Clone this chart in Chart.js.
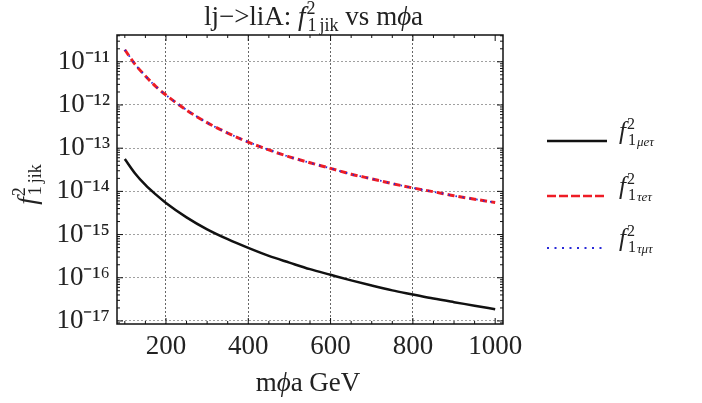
<!DOCTYPE html>
<html><head><meta charset="utf-8">
<script src="https://cdn.jsdelivr.net/npm/chart.js@4"></script>
<style>html,body{margin:0;padding:0;background:#fff}#wrap{width:702px;height:403px;position:relative}</style>
</head><body><div id="wrap"><canvas id="c" width="702" height="403"></canvas></div>
<script>
// ---- data ----
const masses = [100,125,150,175,200,250,300,350,400,450,500,550,600,650,700,750,800,850,900,950,1000];
const f1_mu_e_tau = [5.6e-14,2.6e-14,1.41e-14,8.5e-15,5.4e-15,2.5e-15,1.32e-15,7.8e-16,4.9e-16,3.2e-16,2.24e-16,1.58e-16,1.17e-16,8.7e-17,6.6e-17,5.1e-17,4.1e-17,3.3e-17,2.72e-17,2.26e-17,1.86e-17];
const f1_tau_e_tau = [1.9e-11,8.7e-12,4.7e-12,2.7e-12,1.7e-12,7.6e-13,3.9e-13,2.24e-13,1.38e-13,9.1e-14,6.3e-14,4.6e-14,3.4e-14,2.5e-14,1.95e-14,1.51e-14,1.2e-14,9.8e-15,7.9e-15,6.6e-15,5.5e-15];
const f1_tau_mu_tau = [1.9e-11,8.8e-12,4.7e-12,2.7e-12,1.7e-12,7.7e-13,3.9e-13,2.25e-13,1.39e-13,9.2e-14,6.3e-14,4.6e-14,3.4e-14,2.5e-14,1.96e-14,1.52e-14,1.2e-14,9.8e-15,7.9e-15,6.6e-15,5.5e-15];
const xTickValues = [200,400,600,800,1000];
const yTickExponents = [-17,-16,-15,-14,-13,-12,-11];

const FAM = '"Liberation Serif","Times New Roman",serif';
const SUP = {'-':'\u207B','0':'\u2070','1':'\u00B9','2':'\u00B2','3':'\u00B3','4':'\u2074','5':'\u2075','6':'\u2076','7':'\u2077','8':'\u2078','9':'\u2079'};
function supStr(s){return s.split('').map(ch=>SUP[ch]||ch).join('');}

function font(p){return (p.italic?'italic ':'')+p.size+'px '+FAM;}
function rich(ctx,x,y,parts,align){
  let w=0;
  parts.forEach(p=>{ctx.font=font(p);p._w=ctx.measureText(p.t).width; if(!p.noAdv) w+=p._w+(p.pre||0);});
  let cx = align==='center'? x-w/2 : x;
  parts.forEach(p=>{
    ctx.font=font(p); cx+=(p.pre||0);
    ctx.fillText(p.t,cx,y+(p.dy||0));
    if(!p.noAdv) cx+=p._w;
  });
}

const decor = {
  id:'decor',
  afterDatasetsDraw(chart){
    const ctx=chart.ctx, a=chart.chartArea, xs=chart.scales.x, ys=chart.scales.y;
    ctx.save();
    // frame
    ctx.strokeStyle='#111'; ctx.lineWidth=1.5; ctx.setLineDash([]);
    ctx.strokeRect(a.left,a.top,a.right-a.left,a.bottom-a.top);
    // inward ticks
    ctx.lineWidth=1;
    for(let v=100; v<=1000; v+=50){
      const px=xs.getPixelForValue(v), L = (v%200===0)?6:3;
      ctx.beginPath(); ctx.moveTo(px,a.bottom); ctx.lineTo(px,a.bottom-L);
      ctx.moveTo(px,a.top); ctx.lineTo(px,a.top+L); ctx.stroke();
    }
    for(let k=-18;k<=-11;k++){
      for(let m=1;m<=9;m++){
        const v=m*Math.pow(10,k); if(v<ys.min||v>ys.max) continue;
        const py=ys.getPixelForValue(v), L=(m===1)?6:3;
        ctx.beginPath(); ctx.moveTo(a.left,py); ctx.lineTo(a.left+L,py);
        ctx.moveTo(a.right,py); ctx.lineTo(a.right-L,py); ctx.stroke();
      }
    }
    ctx.fillStyle='#222'; ctx.textBaseline='alphabetic'; ctx.textAlign='left';
    // title
    rich(ctx,313,25,[
      {t:'lj\u2212>liA: ',size:27},
      {t:'f',size:27,italic:true},
      {t:'2',size:18,dy:-11,noAdv:true,pre:1},
      {t:'1',size:18,dy:6,pre:1},
      {t:'jik',size:18,dy:6,pre:3},
      {t:' vs m',size:27},
      {t:'\u03D5',size:27,italic:true},
      {t:'a',size:27}
    ],'center');
    // x title
    rich(ctx,308,391,[
      {t:'m',size:27},{t:'\u03D5',size:27,italic:true},{t:'a GeV',size:27}
    ],'center');
    // y title (rotated)
    ctx.save(); ctx.translate(36,185); ctx.rotate(-Math.PI/2);
    rich(ctx,0,0,[
      {t:'f',size:27,italic:true},
      {t:'2',size:18,dy:-11,noAdv:true,pre:1},
      {t:'1',size:18,dy:5,pre:1},
      {t:'jik',size:18,dy:5,pre:3}
    ],'center');
    ctx.restore();
    // legend
    const leg=[
      {y:141,color:'#111',w:2.5,dash:[],sub:'\u03BCe\u03C4'},
      {y:196,color:'#ee1c25',w:2.5,dash:[9,3],sub:'\u03C4e\u03C4'},
      {y:248,color:'#2a2ad8',w:2.2,dash:[2,5.5],sub:'\u03C4\u03BC\u03C4'}
    ];
    leg.forEach(e=>{
      ctx.strokeStyle=e.color; ctx.lineWidth=e.w; ctx.setLineDash(e.dash);
      ctx.beginPath(); ctx.moveTo(547,e.y); ctx.lineTo(607,e.y); ctx.stroke();
      ctx.setLineDash([]); ctx.fillStyle='#222';
      rich(ctx,619,e.y-2,[
        {t:'f',size:25,italic:true},
        {t:'2',size:16,dy:-10,noAdv:true,pre:1},
        {t:'1',size:16,dy:6,pre:1},
        {t:e.sub,size:13,italic:true,dy:7,pre:1}
      ],'left');
    });
    ctx.restore();
  }
};

function series(label,vals,color,width,dash,order){
  return {label,data:masses.map((m,i)=>({x:m,y:vals[i]})),borderColor:color,borderWidth:width,borderDash:dash,
    pointRadius:0,fill:false,cubicInterpolationMode:'monotone',order};
}

new Chart(document.getElementById('c'),{
  type:'line',
  data:{datasets:[
    series('f1 μeτ',f1_mu_e_tau,'#111',2.5,[],2),
    series('f1 τeτ',f1_tau_e_tau,'#ee1c25',3,[7,4],1),
    series('f1 τμτ',f1_tau_mu_tau,'#2a2ad8',1.8,[1.5,5.5],0)
  ]},
  options:{
    responsive:false, animation:false, devicePixelRatio:1,
    layout:{padding:{top:35,right:199,left:0,bottom:0}},
    plugins:{legend:{display:false},title:{display:false},tooltip:{enabled:false}},
    scales:{
      x:{type:'linear',min:81,max:1019,
        afterBuildTicks:s=>{s.ticks=xTickValues.map(v=>({value:v}));},
        afterFit:s=>{s.height=79;},
        ticks:{font:{family:FAM,size:27},color:'#222',padding:7,maxRotation:0,autoSkip:false,callback:v=>String(v)},
        grid:{color:c=>(c.tick&&c.tick.value===1000)?'rgba(0,0,0,0)':'#666',lineWidth:1,drawTicks:false},
        border:{display:false,dash:[2,2]}},
      y:{type:'logarithmic',min:8.5e-18,max:4.17e-11,
        afterBuildTicks:s=>{s.ticks=yTickExponents.map(k=>({value:Math.pow(10,k)}));},
        afterFit:s=>{s.width=117;},
        ticks:{font:{family:FAM,size:27},color:'#222',padding:7,autoSkip:false,
          callback:v=>'10'+supStr(String(Math.round(Math.log10(v))))},
        grid:{color:'#a0a0a0',lineWidth:1,drawTicks:false},
        border:{display:false,dash:[2,2]}}
    }
  },
  plugins:[decor]
});
</script></body></html>
